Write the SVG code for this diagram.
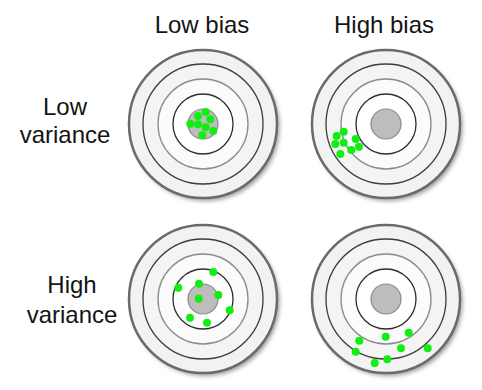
<svg xmlns="http://www.w3.org/2000/svg" xmlns:xlink="http://www.w3.org/1999/xlink" width="482" height="390" viewBox="0 0 482 390">
  <style>
    .lbl { font-family: "Liberation Sans", Arial, sans-serif; font-size: 24px; fill: #141414; text-anchor: middle; }
    .dot { fill: #11ee11; }
    .outer { fill: #f2f2f2; stroke: #6a6a6a; stroke-width: 2.5; }
    .r3 { fill: #f4f4f4; stroke: #3c3c3c; stroke-width: 1.3; }
    .r2 { fill: #fbfbfb; stroke: #8c8c8c; stroke-width: 1.3; }
    .r1 { fill: #ffffff; stroke: #2e2e2e; stroke-width: 1.3; }
    .bull { fill: #bdbdbd; stroke: #8a8a8a; stroke-width: 1.2; }
  </style>
  <defs>
    <filter id="shadow" x="-20%" y="-20%" width="140%" height="140%">
      <feGaussianBlur stdDeviation="2"/>
    </filter>
    <g id="target">
      <circle cx="2.5" cy="3" r="74" fill="#9a9a9a" filter="url(#shadow)"/>
      <circle class="outer" r="74"/>
      <circle class="r3" r="60"/>
      <circle class="r2" r="45"/>
      <circle class="r1" r="30"/>
      <circle class="bull" r="15"/>
    </g>
  </defs>
  <rect width="482" height="390" fill="#ffffff"/>

  <text class="lbl" x="202" y="33">Low bias</text>
  <text class="lbl" x="384" y="33">High bias</text>
  <text class="lbl" x="65" y="115">Low</text>
  <text class="lbl" x="65" y="143">variance</text>
  <text class="lbl" x="72" y="293">High</text>
  <text class="lbl" x="72" y="323">variance</text>

  <g id="low-bias-low-variance">
    <use xlink:href="#target" href="#target" transform="translate(203,124)"/>
    <circle class="dot" cx="205.7" cy="112" r="4"/>
    <circle class="dot" cx="198" cy="116" r="4"/>
    <circle class="dot" cx="210.3" cy="119.3" r="4"/>
    <circle class="dot" cx="190.3" cy="123.7" r="4"/>
    <circle class="dot" cx="198" cy="124.3" r="4"/>
    <circle class="dot" cx="205.7" cy="127.3" r="4"/>
    <circle class="dot" cx="213.3" cy="131" r="4"/>
    <circle class="dot" cx="202.3" cy="135.3" r="4"/>
  </g>

  <g id="high-bias-low-variance">
    <use xlink:href="#target" href="#target" transform="translate(386,124)"/>
    <circle class="dot" cx="343.7" cy="131.7" r="4"/>
    <circle class="dot" cx="336.7" cy="136" r="4"/>
    <circle class="dot" cx="355.7" cy="139" r="4"/>
    <circle class="dot" cx="343.7" cy="142.7" r="4"/>
    <circle class="dot" cx="335.3" cy="144" r="4"/>
    <circle class="dot" cx="359" cy="146.7" r="4"/>
    <circle class="dot" cx="351.3" cy="150" r="4"/>
    <circle class="dot" cx="340.3" cy="154" r="4"/>
  </g>

  <g id="low-bias-high-variance">
    <use xlink:href="#target" href="#target" transform="translate(203,299)"/>
    <circle class="dot" cx="213.3" cy="272" r="4"/>
    <circle class="dot" cx="199" cy="283.7" r="4"/>
    <circle class="dot" cx="178.3" cy="287.7" r="4"/>
    <circle class="dot" cx="218.3" cy="295" r="4"/>
    <circle class="dot" cx="198.7" cy="298.7" r="4"/>
    <circle class="dot" cx="229.7" cy="310.3" r="4"/>
    <circle class="dot" cx="190" cy="317.7" r="4"/>
    <circle class="dot" cx="207" cy="322.7" r="4"/>
  </g>

  <g id="high-bias-high-variance">
    <use xlink:href="#target" href="#target" transform="translate(386,299)"/>
    <circle class="dot" cx="408.7" cy="332.7" r="4"/>
    <circle class="dot" cx="385.7" cy="336.7" r="4"/>
    <circle class="dot" cx="359.3" cy="340.7" r="4"/>
    <circle class="dot" cx="355.7" cy="351.7" r="4"/>
    <circle class="dot" cx="401" cy="348.3" r="4"/>
    <circle class="dot" cx="427.7" cy="348.3" r="4"/>
    <circle class="dot" cx="387.3" cy="359.3" r="4"/>
    <circle class="dot" cx="374.7" cy="363" r="4"/>
  </g>
</svg>
